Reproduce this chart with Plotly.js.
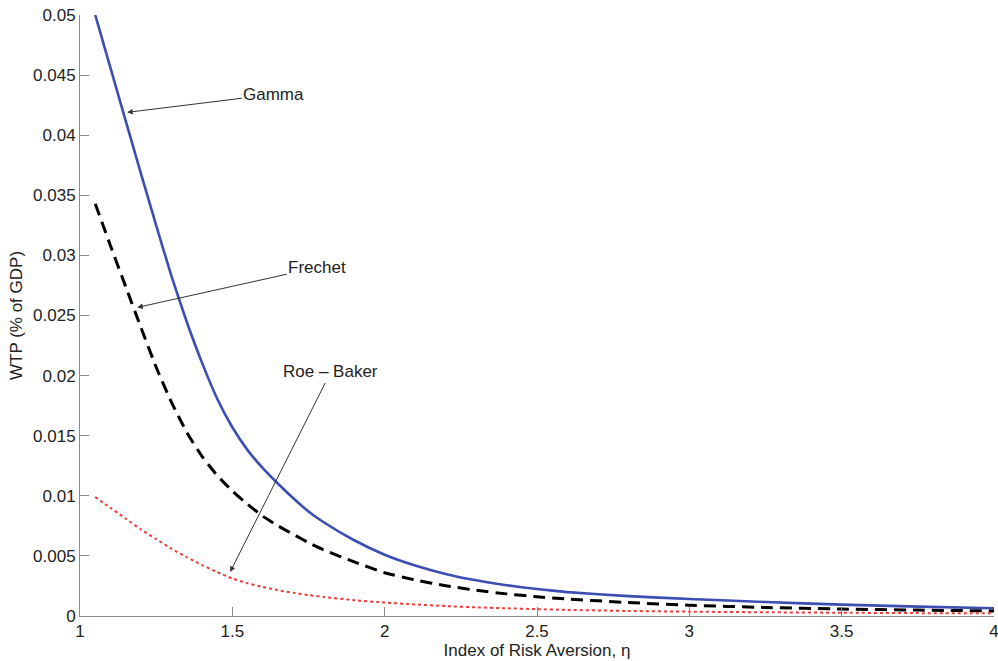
<!DOCTYPE html>
<html>
<head>
<meta charset="utf-8">
<script src="https://cdn.plot.ly/plotly-3.0.1.min.js"></script>
<style>html,body{margin:0;padding:0;background:#fff;}#chart{width:998px;height:661px;}</style>
</head>
<body>
<div id="chart"></div>
<script>
const eta = [1.05,1.1,1.15,1.2,1.25,1.3,1.35,1.4,1.45,1.5,1.55,1.6,1.65,1.7,1.75,1.8,1.9,2.0,2.1,2.2,2.3,2.4,2.5,2.6,2.8,3.0,3.25,3.5,3.75,4.0];
const gamma = [0.0500,0.0456,0.0412,0.0368,0.0325,0.0283,0.0245,0.0211,0.0181,0.0157,0.0138,0.0123,0.0110,0.0098,0.0087,0.0078,0.0063,0.0051,0.0042,0.0035,0.00297,0.00256,0.00224,0.00199,0.00165,0.00142,0.00116,0.00095,0.00078,0.00064];
const frechet = [0.0343,0.0308,0.0274,0.0240,0.0207,0.0178,0.0153,0.0133,0.0117,0.0104,0.0093,0.0083,0.0075,0.0068,0.0061,0.0055,0.0045,0.0036,0.0030,0.00252,0.00214,0.00184,0.00160,0.00141,0.00112,0.00090,0.00071,0.00058,0.00049,0.00042];
const roeBaker = [0.0099,0.0090,0.0081,0.0072,0.0064,0.0056,0.0049,0.00425,0.00365,0.00312,0.00272,0.00241,0.00215,0.00193,0.00174,0.00158,0.00132,0.00112,0.00096,0.00083,0.00072,0.00064,0.00057,0.00051,0.00042,0.00036,0.00031,0.00027,0.00024,0.00022];
const labels = ["Gamma","Frechet","Roe – Baker"];

const FONT = "Liberation Sans, Arial, Helvetica, sans-serif";
const traces = [
  {x: eta, y: gamma, mode: "lines", name: labels[0], line: {color: "#3b4fb3", width: 2.6, shape: "spline", smoothing: 0.5}},
  {x: eta, y: frechet, mode: "lines", name: labels[1], line: {color: "#000000", width: 3, dash: "12px,7px", shape: "spline", smoothing: 0.5}},
  {x: eta, y: roeBaker, mode: "lines", name: labels[2], line: {color: "#f03a3a", width: 2, dash: "dot", shape: "spline", smoothing: 0.5}}
];

function ann(text, tx, ty, hx, hy) {
  return {text: text, x: hx, y: hy, ax: tx, ay: ty, xref: "x", yref: "y", axref: "x", ayref: "y",
    showarrow: true, arrowhead: 2, arrowsize: 1.1, arrowwidth: 1, arrowcolor: "#333", standoff: 0,
    font: {family: FONT, size: 17, color: "#222"}};
}

const layout = {
  width: 998, height: 661,
  margin: {l: 80, r: 4, t: 15, b: 45},
  paper_bgcolor: "#fff", plot_bgcolor: "#fff",
  showlegend: false,
  font: {family: FONT, size: 17, color: "#222"},
  xaxis: {range: [1, 4], dtick: 0.5, tick0: 1, showgrid: false, zeroline: false, showline: true,
    linecolor: "#8a8a8a", linewidth: 1, ticks: "inside", ticklen: 9, tickcolor: "#8a8a8a",
    ticklabeloverflow: "allow",
    tickfont: {family: FONT, size: 17, color: "#222"},
    title: {text: "Index of Risk Aversion, η", font: {family: FONT, size: 17, color: "#222"}, standoff: 2}},
  yaxis: {range: [0, 0.05], dtick: 0.005, tick0: 0, showgrid: false, zeroline: false, showline: true,
    linecolor: "#8a8a8a", linewidth: 1, ticks: "inside", ticklen: 9, tickcolor: "#8a8a8a",
    ticklabeloverflow: "allow",
    tickfont: {family: FONT, size: 17, color: "#222"},
    title: {text: "WTP (% of GDP)", font: {family: FONT, size: 17, color: "#222"}, standoff: 6}},
  annotations: [
    ann(labels[0], 1.636, 0.0434, 1.155, 0.0419),
    ann(labels[1], 1.779, 0.0290, 1.188, 0.02567),
    ann(labels[2], 1.823, 0.0203, 1.493, 0.00367)
  ]
};
Plotly.newPlot("chart", traces, layout, {displayModeBar: false, staticPlot: true});
</script>
</body>
</html>
